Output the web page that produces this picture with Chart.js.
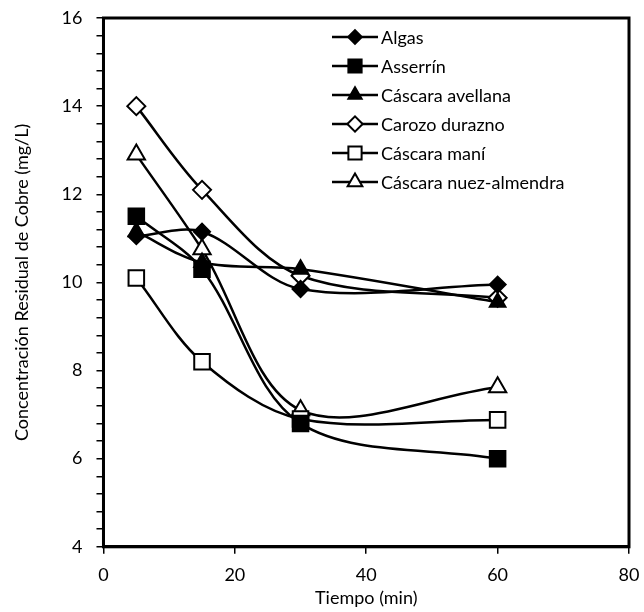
<!DOCTYPE html>
<html>
<head>
<meta charset="utf-8">
<script src="https://cdn.jsdelivr.net/npm/chart.js@4/dist/chart.umd.min.js"></script>
<style>
html, body { margin: 0; padding: 0; background: #fff; }
#wrap { width: 644px; height: 612px; }
</style>
</head>
<body>
<div id="wrap"><canvas id="chart" width="644" height="612"></canvas></div>
<script>
var tiempo = [5, 15, 30, 60];
var algas = [11.05, 11.15, 9.85, 9.95];
var asserrin = [11.5, 10.3, 6.8, 6.0];
var avellana = [11.15, 10.45, 10.3, 9.55];
var durazno = [14.0, 12.1, 10.15, 9.65];
var mani = [10.1, 8.2, 6.9, 6.88];
var nuez = [12.9, 10.75, 7.1, 7.62];
var yTicks = [4, 6, 8, 10, 12, 14, 16];
var xTicks = [0, 20, 40, 60, 80];

var FONT = 'Lato, "Open Sans", sans-serif';

function pts(arr) {
    var out = [];
    for (var i = 0; i < arr.length; i++) out.push({x: tiempo[i], y: arr[i]});
    return out;
}

function ds(label, arr, style, radius, filled) {
    return {
        label: label,
        data: pts(arr),
        borderColor: '#000',
        borderWidth: 2.5,
        tension: 0.33,
        pointStyle: style,
        pointRadius: radius,
        pointBorderWidth: 2,
        pointBorderColor: '#000',
        pointBackgroundColor: filled ? '#000' : '#fff',
        fill: false
    };
}

var frame = {
    id: 'frame',
    afterDatasetsDraw: function(chart) {
        var a = chart.chartArea, ctx = chart.ctx;
        ctx.save();
        ctx.strokeStyle = '#000';
        ctx.lineWidth = 3;
        ctx.strokeRect(a.left, a.top, a.right - a.left, a.bottom - a.top);
        ctx.restore();
    }
};

var legendBox = {
    id: 'legendBox',
    afterDraw: function(chart) {
        var ctx = chart.ctx;
        var x0 = 332, x1 = 378, y = 37, step = 29;
        ctx.save();
        chart.data.datasets.forEach(function(d, i) {
            var yy = y + i * step;
            ctx.strokeStyle = '#000';
            ctx.lineWidth = 2.5;
            ctx.beginPath();
            ctx.moveTo(x0, yy);
            ctx.lineTo(x1, yy);
            ctx.stroke();
            ctx.fillStyle = d.pointBackgroundColor;
            ctx.lineWidth = 2;
            Chart.helpers.drawPoint(ctx, {pointStyle: d.pointStyle, radius: d.pointRadius * 0.85, rotation: 0, borderWidth: 2}, (x0 + x1) / 2, yy);
            ctx.fillStyle = '#000';
            ctx.font = '18px ' + FONT;
            ctx.textBaseline = 'middle';
            ctx.textAlign = 'left';
            ctx.fillText(d.label, x1 + 3, yy + 1);
        });
        ctx.restore();
    }
};

window.onload = function() {
    var ctx = document.getElementById('chart').getContext('2d');
    var config = {
        type: 'line',
        data: {
            datasets: [
                ds('Algas', algas, 'rectRot', 8, true),
                ds('Asserrín', asserrin, 'rect', 11, true),
                ds('Cáscara avellana', avellana, 'triangle', 9, true),
                ds('Carozo durazno', durazno, 'rectRot', 9, false),
                ds('Cáscara maní', mani, 'rect', 11, false),
                ds('Cáscara nuez-almendra', nuez, 'triangle', 10, false)
            ]
        },
        options: {
            responsive: false,
            animation: false,
            layout: { padding: { top: 18, right: 15, left: 11, bottom: 0 } },
            plugins: { legend: { display: false }, tooltip: { enabled: false } },
            scales: {
                x: {
                    type: 'linear',
                    min: 0, max: 80,
                    afterBuildTicks: function(axis) {
                        axis.ticks = xTicks.map(function(v) { return {value: v}; });
                    },
                    afterFit: function(axis) { axis.paddingLeft = 0; axis.paddingRight = 0; },
                    grid: { drawOnChartArea: false, drawTicks: true, tickLength: 7, color: '#000', lineWidth: 1.5 },
                    border: { display: true, color: '#000', width: 3 },
                    ticks: { color: '#000', font: { family: FONT, size: 18 }, padding: 11 },
                    title: { display: true, text: 'Tiempo (min)', color: '#000', font: { family: FONT, size: 18 }, padding: { top: -10, bottom: 3 } }
                },
                y: {
                    type: 'linear',
                    min: 4, max: 16,
                    afterBuildTicks: function(axis) {
                        var t = [];
                        for (var i = 0; i <= 30; i++) t.push({value: Math.round((4 + i * 0.4) * 10) / 10});
                        axis.ticks = t;
                    },
                    afterFit: function(axis) { axis.paddingTop = 0; axis.paddingBottom = 0; },
                    grid: { drawOnChartArea: false, drawTicks: true, tickLength: 7, color: '#000', lineWidth: 1.5 },
                    border: { display: true, color: '#000', width: 3 },
                    ticks: {
                        color: '#000', font: { family: FONT, size: 18 }, padding: 14, autoSkip: false,
                        callback: function(v) { return yTicks.indexOf(v) >= 0 ? String(v) : ''; }
                    },
                    title: { display: true, text: 'Concentración Residual de Cobre (mg/L)', color: '#000', font: { family: FONT, size: 18 }, padding: { top: 0, bottom: 15 } }
                }
            }
        },
        plugins: [frame, legendBox]
    };
    window.myChart = new Chart(ctx, config);
};
</script>
</body>
</html>
